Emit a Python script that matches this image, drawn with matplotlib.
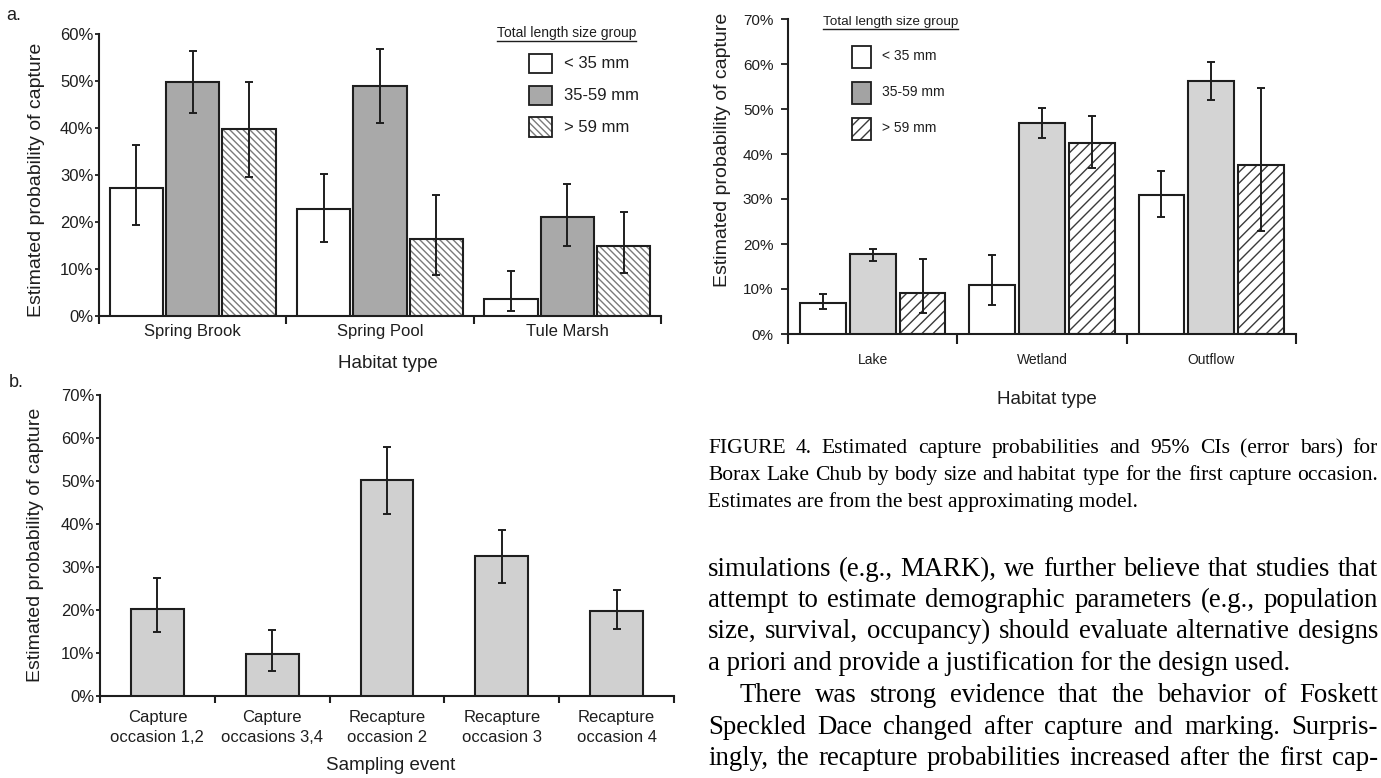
import numpy as np
import matplotlib
matplotlib.use("Agg")
import matplotlib.pyplot as plt
from matplotlib.patches import Rectangle
from matplotlib.lines import Line2D
from matplotlib.ticker import PercentFormatter

W, H = 1381, 778
SANS = "Liberation Sans"
SERIF = "Liberation Serif"
INK = "#1e1e1e"

# ---- panel a: Foskett Speckled Dace, capture probability by habitat / size
habitat_a = ["Spring Brook", "Spring Pool", "Tule Marsh"]
size_groups = ["< 35 mm", "35-59 mm", "> 59 mm"]
a_small = [27.3, 22.8, 3.6]
a_small_lo = [19.4, 15.7, 1.1]
a_small_hi = [36.4, 30.3, 9.6]
a_mid = [49.8, 49.0, 21.1]
a_mid_lo = [43.1, 41.1, 15.0]
a_mid_hi = [56.4, 56.9, 28.0]
a_large = [39.7, 16.3, 15.0]
a_large_lo = [29.6, 8.8, 9.1]
a_large_hi = [49.7, 25.8, 22.2]

# ---- panel b: capture probability by sampling event
events = ["Capture\noccasion 1,2", "Capture\noccasions 3,4", "Recapture\noccasion 2",
          "Recapture\noccasion 3", "Recapture\noccasion 4"]
b_est = [20.3, 9.7, 50.2, 32.5, 19.7]
b_lo = [14.8, 5.8, 42.3, 26.3, 15.5]
b_hi = [27.5, 15.3, 57.8, 38.7, 24.6]

# ---- right panel: Borax Lake Chub
habitat_c = ["Lake", "Wetland", "Outflow"]
c_small = [6.9, 10.9, 31.0]
c_small_lo = [5.5, 6.5, 25.9]
c_small_hi = [8.8, 17.6, 36.3]
c_mid = [17.7, 46.8, 56.2]
c_mid_lo = [16.2, 43.6, 51.9]
c_mid_hi = [19.0, 50.2, 60.4]
c_large = [9.1, 42.5, 37.6]
c_large_lo = [4.7, 36.9, 23.0]
c_large_hi = [16.7, 48.4, 54.7]

caption = [
    "FIGURE 4.  Estimated capture probabilities and 95% CIs (error bars) for",
    "Borax Lake Chub by body size and habitat type for the first capture occasion.",
    "Estimates are from the best approximating model.",
]
body = [
    "simulations (e.g., MARK), we further believe that studies that",
    "attempt to estimate demographic parameters (e.g., population",
    "size, survival, occupancy) should evaluate alternative designs",
    "a priori and provide a justification for the design used.",
    "There was strong evidence that the behavior of Foskett",
    "Speckled Dace changed after capture and marking. Surpris-",
    "ingly, the recapture probabilities increased after the first cap-",
]

plt.rcParams["font.family"] = SANS
plt.rcParams["hatch.linewidth"] = 1.0
fig = plt.figure(figsize=(W / 100, H / 100), dpi=100)
fig.patch.set_facecolor("white")


def fx(x):
    return x / W


def fy(y):
    return 1 - y / H


def px_axes(l, t, r, b):
    return fig.add_axes([l / W, 1 - b / H, (r - l) / W, (b - t) / H])


def style_axes(ax, ymax, ticklen, tickpad, tsize, xlen, xpad, xsize, ngroups):
    for s in ["top", "right"]:
        ax.spines[s].set_visible(False)
    for s in ["left", "bottom"]:
        ax.spines[s].set_linewidth(1.5)
        ax.spines[s].set_color(INK)
    ax.set_ylim(0, ymax)
    ax.set_xlim(0, ngroups)
    ax.set_yticks(np.arange(0, ymax + 1, 10))
    ax.yaxis.set_major_formatter(PercentFormatter(decimals=0))
    ax.tick_params(axis="y", length=ticklen, width=1.3, pad=tickpad,
                   labelsize=tsize, colors=INK)
    ax.set_xticks(np.arange(ngroups + 1))
    ax.set_xticklabels([])
    ax.set_xticks(np.arange(ngroups) + 0.5, minor=True)
    ax.tick_params(axis="x", which="major", length=xlen, width=1.5, color=INK)
    ax.tick_params(axis="x", which="minor", length=0, pad=xpad,
                   labelsize=xsize, labelcolor=INK)
    for sp in ax.spines.values():
        sp.set_clip_on(False)


def grouped_bars(ax, vals, los, his, offsets, width, styles):
    x0 = np.arange(3)
    for v, lo, hi, off, st in zip(vals, los, his, offsets, styles):
        v, lo, hi = np.array(v), np.array(lo), np.array(hi)
        x = x0 + off
        if st.get("hatch"):
            ax.bar(x, v, width, color="white", edgecolor=st["hcolor"],
                   hatch=st["hatch"], linewidth=0, zorder=2)
            ax.bar(x, v, width, fill=False, edgecolor=INK, linewidth=1.5, zorder=3)
        else:
            ax.bar(x, v, width, color=st["fc"], edgecolor=INK, linewidth=1.5, zorder=3)
        ax.errorbar(x, v, yerr=[v - lo, hi - v], fmt="none", ecolor=INK,
                    elinewidth=1.4, capsize=2.6, capthick=1.4, zorder=4)


# ---------- panel a
ax_a = px_axes(99, 34, 661, 316)
style_axes(ax_a, 60, 3, 1, 12, 6, 6, 12, 3)
ax_a.set_xticklabels(habitat_a, minor=True)
styles_a = [{"fc": "white"}, {"fc": "#a9a9a9"},
            {"hatch": "\\\\\\\\\\", "hcolor": "#7a7a7a"}]
grouped_bars(ax_a, [a_small, a_mid, a_large], [a_small_lo, a_mid_lo, a_large_lo],
             [a_small_hi, a_mid_hi, a_large_hi], [0.2, 0.5, 0.8], 0.285, styles_a)
ax_a.set_ylabel("Estimated probability of capture", fontsize=14, color=INK, va="center")
ax_a.yaxis.set_label_coords((36 - 99) / 562, (316 - 180) / 282)
ax_a.set_xlabel("Habitat type", fontsize=13.5, color=INK, va="center")
ax_a.xaxis.set_label_coords((388 - 99) / 562, -(363 - 316) / 282)

# ---------- panel b
ax_b = px_axes(100, 395, 674, 696)
style_axes(ax_b, 70, 3, 1, 12, 5, 10, 12, 5)
ax_b.set_xticklabels(events, minor=True, linespacing=1.45)
b_est_arr, b_lo_arr, b_hi_arr = np.array(b_est), np.array(b_lo), np.array(b_hi)
xb = np.arange(5) + 0.5
ax_b.bar(xb, b_est_arr, 0.46, color="#d0d0d0", edgecolor=INK, linewidth=1.5, zorder=3)
ax_b.errorbar(xb, b_est_arr, yerr=[b_est_arr - b_lo_arr, b_hi_arr - b_est_arr],
              fmt="none", ecolor=INK, elinewidth=1.4, capsize=2.6, capthick=1.4, zorder=4)
ax_b.set_ylabel("Estimated probability of capture", fontsize=14, color=INK, va="center")
ax_b.yaxis.set_label_coords((36 - 100) / 574, (696 - 545) / 301)
ax_b.set_xlabel("Sampling event", fontsize=13.5, color=INK, va="center")
ax_b.xaxis.set_label_coords((391 - 100) / 574, -(766 - 696) / 301)

# ---------- right panel
ax_c = px_axes(788, 19, 1296, 334)
style_axes(ax_c, 70, 5, 5.5, 11, 7, 14, 10, 3)
ax_c.set_xticklabels(habitat_c, minor=True)
styles_c = [{"fc": "white"}, {"fc": "#d4d4d4"},
            {"hatch": "///", "hcolor": "#3a3a3a"}]
grouped_bars(ax_c, [c_small, c_mid, c_large], [c_small_lo, c_mid_lo, c_large_lo],
             [c_small_hi, c_mid_hi, c_large_hi], [0.205, 0.5, 0.795], 0.27, styles_c)
ax_c.set_ylabel("Estimated probability of capture", fontsize=14, color=INK, va="center")
ax_c.yaxis.set_label_coords((722 - 788) / 508, (334 - 150) / 315)
ax_c.set_xlabel("Habitat type", fontsize=13.5, color=INK, va="center")
ax_c.xaxis.set_label_coords((1047 - 788) / 508, -(399 - 334) / 315)

# panel letters
fig.text(fx(6), fy(15), "a.", fontsize=13, color=INK, va="center")
fig.text(fx(9), fy(382), "b.", fontsize=13, color=INK, va="center")

renderer = fig.canvas.get_renderer()


def legend_block(title_xy, title_size, box_x, box_w, box_ys, text_x, text_ys, size,
                 gray, hatch, hcolor):
    t = fig.text(fx(title_xy[0]), fy(title_xy[1]), "Total length size group",
                 fontsize=title_size, color=INK, va="center")
    bb = t.get_window_extent(renderer)
    uy = bb.y0 - 1
    fig.add_artist(Line2D([bb.x0 / W, bb.x1 / W], [uy / H, uy / H], color=INK, lw=1.0))
    fills = ["white", gray, "white"]
    for i, (y0, y1) in enumerate(box_ys):
        kw = dict(transform=fig.transFigure, linewidth=1.3)
        if i == 2:
            fig.add_artist(Rectangle((fx(box_x), fy(y1)), box_w / W, (y1 - y0) / H,
                                     facecolor="white", edgecolor=hcolor, hatch=hatch,
                                     linewidth=0, transform=fig.transFigure))
            fig.add_artist(Rectangle((fx(box_x), fy(y1)), box_w / W, (y1 - y0) / H,
                                     fill=False, edgecolor=INK, **kw))
        else:
            fig.add_artist(Rectangle((fx(box_x), fy(y1)), box_w / W, (y1 - y0) / H,
                                     facecolor=fills[i], edgecolor=INK, **kw))
        fig.text(fx(text_x), fy(text_ys[i]), size_groups[i], fontsize=size,
                 color=INK, va="center")


legend_block((497, 33), 10, 529, 23, [(54, 73), (86, 105), (117, 137)], 564,
             [64, 96, 127], 12, "#a9a9a9", "\\\\\\\\\\", "#7a7a7a")
legend_block((823, 22), 9.7, 852, 19, [(46, 68), (82, 104), (118, 140)], 882,
             [56, 92, 128], 10, "#a3a3a3", "///", "#3a3a3a")


# ---------- caption and body text (justified)
def natural_width(s, size):
    t = fig.text(0, 0, s, fontsize=size, family=SERIF)
    w = t.get_window_extent(renderer).width
    t.remove()
    return w


def put_line(s, x0, x1, ybase, size, justify):
    if not justify:
        fig.text(fx(x0), fy(ybase), s, fontsize=size, family=SERIF, color="black",
                 va="baseline")
        return
    words = s.split()
    arts = [fig.text(0, fy(ybase), w, fontsize=size, family=SERIF, color="black",
                     va="baseline") for w in words]
    widths = [a.get_window_extent(renderer).width for a in arts]
    gap = (x1 - x0 - sum(widths)) / (len(words) - 1)
    x = x0
    for a, w in zip(arts, widths):
        a.set_x(fx(x))
        x += w + gap


cap_size = 10 * 668 / natural_width(caption[1], 10)
body_size = 10 * 660 / natural_width(body[2], 10)

cap_y = [453, 480, 507]
for s, y, j in zip(caption, cap_y, [True, True, False]):
    put_line(s, 708, 1378, y, cap_size, j)

body_y = [576, 607, 638, 670, 702, 734, 765]
body_x0 = [708, 708, 708, 708, 740, 708, 708]
for s, y, x0, j in zip(body, body_y, body_x0, [True, True, True, False, True, True, True]):
    put_line(s, x0, 1378, y, body_size, j)

fig.savefig("out.png", dpi=100, facecolor="white")
